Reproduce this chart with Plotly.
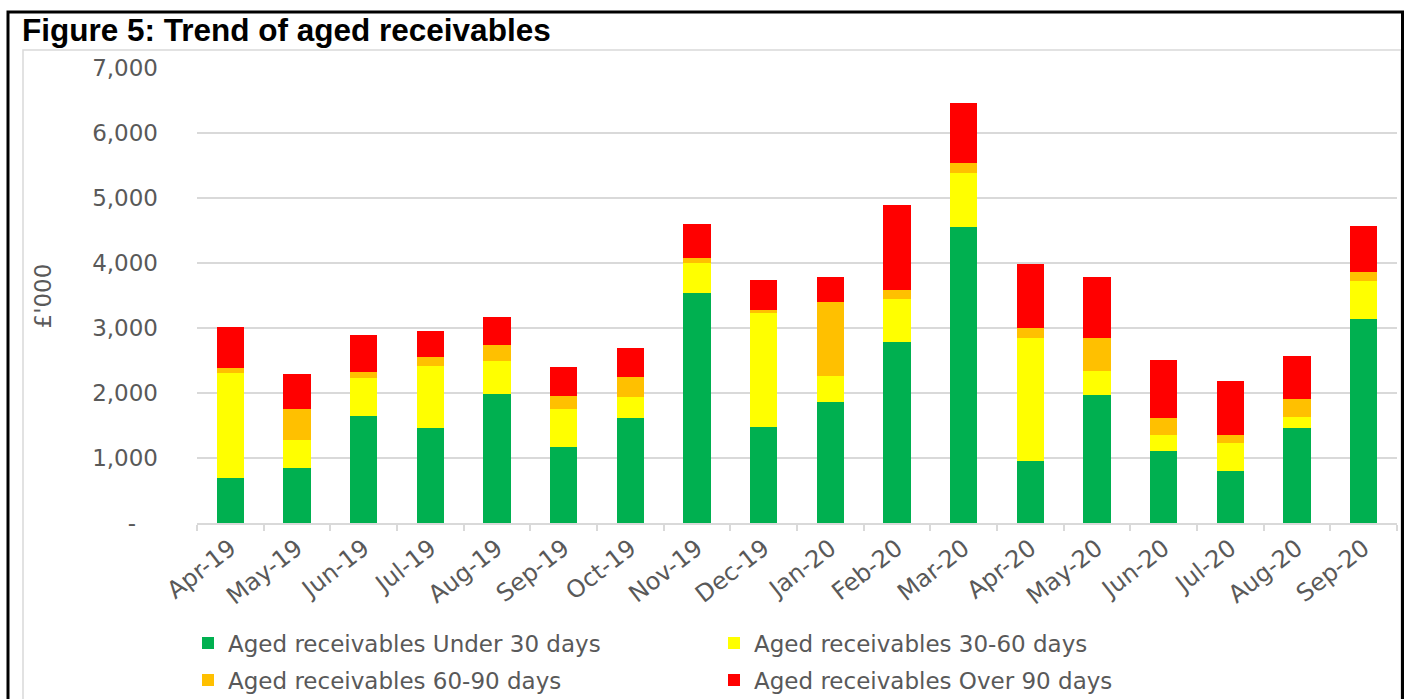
import plotly.graph_objects as go

# Monthly aged receivables (£'000), split by age band
months = ["Apr-19", "May-19", "Jun-19", "Jul-19", "Aug-19", "Sep-19", "Oct-19",
          "Nov-19", "Dec-19", "Jan-20", "Feb-20", "Mar-20", "Apr-20", "May-20",
          "Jun-20", "Jul-20", "Aug-20", "Sep-20"]
under_30 = [690, 850, 1650, 1460, 1985, 1175, 1620, 3540, 1480, 1855, 2785, 4550,
            960, 1965, 1110, 800, 1460, 3145]
days_30_60 = [1620, 430, 585, 960, 500, 585, 325, 460, 1750, 400, 665, 840,
              1890, 380, 245, 425, 175, 585]
days_60_90 = [80, 480, 95, 130, 250, 195, 295, 75, 50, 1145, 140, 155,
              145, 505, 265, 125, 280, 125]
over_90 = [630, 540, 565, 410, 440, 450, 450, 525, 460, 390, 1305, 910,
           990, 940, 895, 835, 660, 710]

y_ticks = [0, 1000, 2000, 3000, 4000, 5000, 6000, 7000]
y_tick_text = ["-\u00a0\u00a0\u00a0", "1,000", "2,000", "3,000", "4,000",
               "5,000", "6,000", "7,000"]

series = [
    ("Aged receivables Under 30 days", under_30, "#00B050", "legend"),
    ("Aged receivables 30-60 days", days_30_60, "#FFFF00", "legend"),
    ("Aged receivables 60-90 days", days_60_90, "#FFC000", "legend2"),
    ("Aged receivables Over 90 days", over_90, "#FF0000", "legend2"),
]

W, H = 1407, 699
ML, MR, MT, MB = 197, 10, 68, 176
PW, PH = W - ML - MR, H - MT - MB


def px_x(px):
    return (px - ML) / PW


def px_y(py):
    return (H - MB - py) / PH


TEXT = "#595959"
GRID = "#d9d9d9"
FONT = "DejaVu Sans"

fig = go.Figure()
for name, vals, color, lg in series:
    fig.add_trace(go.Bar(
        x=months, y=vals, name=name, legend=lg,
        marker=dict(color=color, line=dict(width=0)),
    ))

legend_common = dict(
    orientation="h", xref="container", yref="container",
    xanchor="left", yanchor="middle",
    entrywidth=481, entrywidthmode="pixels",
    font=dict(family=FONT, size=23, color=TEXT),
    bgcolor="rgba(0,0,0,0)", traceorder="normal",
)

fig.update_layout(
    width=W, height=H,
    margin=dict(l=ML, r=MR, t=MT, b=MB, autoexpand=False),
    paper_bgcolor="white", plot_bgcolor="white",
    barmode="stack", bargap=0.59,
    title=dict(
        text="<b>Figure 5: Trend of aged receivables</b>",
        xref="container", yref="container",
        x=22 / W, xanchor="left", y=1 - 19 / H, yanchor="top",
        font=dict(family="Liberation Sans, Arial", size=31.5, color="black"),
    ),
    legend=dict(x=188 / W, y=1 - 643 / H, **legend_common),
    legend2=dict(x=188 / W, y=1 - 680 / H, **legend_common),
    xaxis=dict(
        type="category", tickangle=-38, automargin=False,
        tickfont=dict(family=FONT, size=24, color=TEXT),
        showline=True, linecolor=GRID, linewidth=1.5,
        ticks="outside", tickson="boundaries", ticklen=6, tickcolor=GRID,
        tickwidth=1.5, showgrid=False,
    ),
    yaxis=dict(
        range=[0, 7000], tickvals=y_ticks, ticktext=y_tick_text,
        automargin=False,
        tickfont=dict(family=FONT, size=23, color=TEXT),
        showgrid=True, gridcolor=GRID, gridwidth=1.5,
        zeroline=False, ticks="", ticklabelstandoff=38,
    ),
    annotations=[dict(
        text="£'000", xref="paper", yref="paper",
        x=px_x(42), y=0.5, textangle=-90, showarrow=False,
        xanchor="center", yanchor="middle",
        font=dict(family=FONT, size=23, color=TEXT),
    )],
    shapes=[
        # light chart-area border
        dict(type="rect", xref="paper", yref="paper",
             x0=px_x(23), x1=px_x(1401), y0=px_y(720), y1=px_y(50),
             line=dict(color=GRID, width=1.5), layer="below"),
        # outer black frame
        dict(type="rect", xref="paper", yref="paper",
             x0=px_x(8), x1=px_x(1402.5), y0=px_y(720), y1=px_y(12),
             line=dict(color="black", width=3)),
    ],
)

fig.write_html("out.html")
